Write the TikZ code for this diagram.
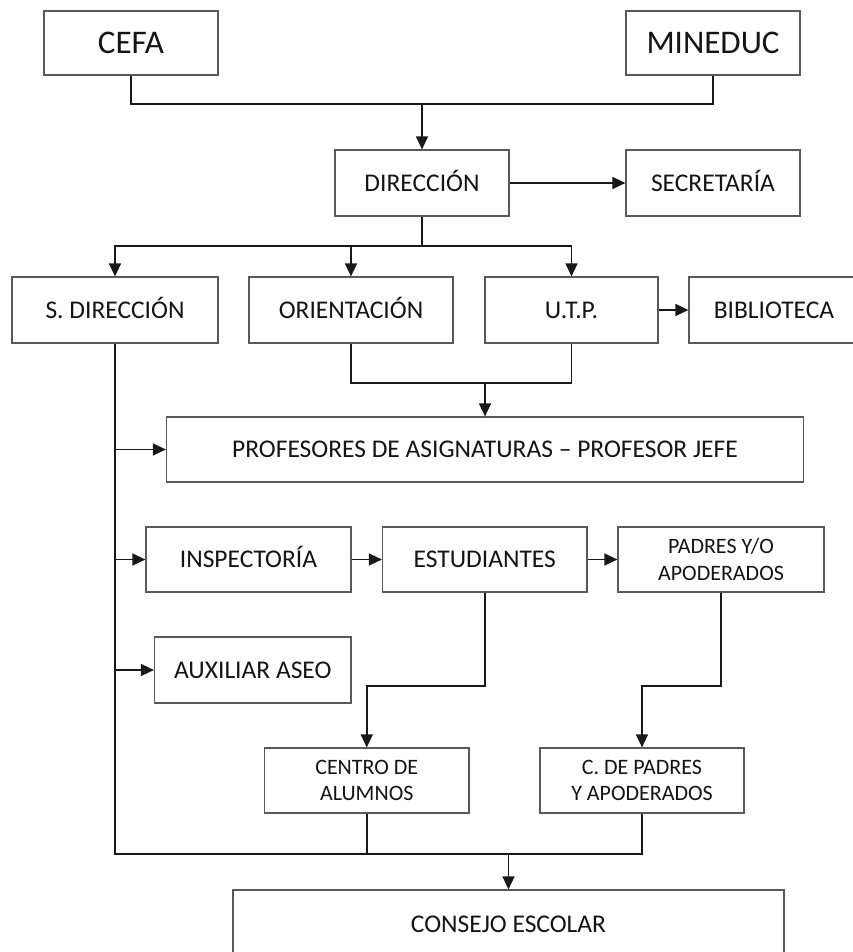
\documentclass[tikz,border=0pt]{standalone}
\usepackage{fontspec}
\setmainfont{Carlito}
\usetikzlibrary{arrows.meta}
\begin{document}
\begin{tikzpicture}[x=1pt,y=-1pt,
  box/.style={draw=black!65,line width=1.2pt,inner sep=0pt,text=black!92,align=center},
  big/.style={font=\fontsize{33}{38}\selectfont,text height=21pt,text depth=0pt},
  mid/.style={font=\fontsize{25.5}{30}\selectfont,text height=16.2pt,text depth=0pt},
  two/.style={font=\fontsize{22}{26.5}\selectfont},
  conn/.style={draw=black!90,line width=1.5pt},
  arr/.style={conn,-{Triangle[length=13pt,width=12pt]}}]
\useasboundingbox (0,0) rectangle (853,952);
\fill[white] (0,0) rectangle (853,952);
% boxes
\node[box,big,minimum width=174pt,minimum height=64pt] (cefa) at (131,43) {CEFA};
\node[box,big,minimum width=174pt,minimum height=64pt] (mineduc) at (713,43) {MINEDUC};
\node[box,mid,minimum width=174pt,minimum height=66pt] (dir) at (422,183) {DIRECCIÓN};
\node[box,mid,minimum width=174pt,minimum height=66pt] (sec) at (713,183) {SECRETARÍA};
\node[box,mid,minimum width=206pt,minimum height=66pt] (sdir) at (115,310) {S. DIRECCIÓN};
\node[box,mid,minimum width=204pt,minimum height=66pt] (ori) at (351,310) {ORIENTACIÓN};
\node[box,mid,minimum width=173pt,minimum height=66pt] (utp) at (571.5,310) {U.T.P.};
\node[box,mid,minimum width=170pt,minimum height=66pt] (bib) at (774,310) {BIBLIOTECA};
\node[box,mid,minimum width=637pt,minimum height=65pt] (prof) at (485,449.5) {PROFESORES DE ASIGNATURAS – PROFESOR JEFE};
\node[box,mid,minimum width=205pt,minimum height=65pt] (insp) at (248.5,559.5) {INSPECTORÍA};
\node[box,mid,minimum width=204.5pt,minimum height=65pt] (est) at (484.75,559.5) {ESTUDIANTES};
\node[box,two,minimum width=206pt,minimum height=65pt] (pad) at (721,559.5) {PADRES Y/O\\APODERADOS};
\node[box,mid,minimum width=196.5pt,minimum height=66pt] (aux) at (252.75,670) {AUXILIAR ASEO};
\node[box,two,minimum width=204.5pt,minimum height=65pt] (cen) at (366.75,780.5) {CENTRO DE\\ALUMNOS};
\node[box,two,minimum width=204pt,minimum height=65pt] (cpad) at (642,780.5) {C. DE PADRES\\Y APODERADOS};
\node[box,mid,minimum width=551pt,minimum height=68pt] (cons) at (508.5,924) {CONSEJO ESCOLAR};
% connectors
\coordinate (j1) at (422,104);
\draw[conn] (cefa.south) |- (j1) -| (mineduc.south);
\draw[arr] (j1) -- (dir.north);
\draw[arr] (dir.east) -- (sec.west);
\coordinate (j2) at (422,246);
\draw[conn] (dir.south) -- (j2);
\draw[arr] (j2) -| (sdir.north);
\draw[arr] (j2) -| (utp.north);
\draw[arr] (ori.north |- j2) -- (ori.north);
\draw[arr] (utp.east) -- (bib.west);
\coordinate (j3) at (485,383);
\draw[conn] (ori.south) |- (j3) -| (utp.south);
\draw[arr] (j3) -- (prof.north);
\coordinate (j5) at (508.5,854);
\draw[conn] (sdir.south) |- (j5) -| (cpad.south);
\draw[conn] (cen.south) -- (cen.south |- j5);
\draw[arr] (j5) -- (cons.north);
\draw[arr] (sdir.south |- prof.west) -- (prof.west);
\draw[arr] (sdir.south |- insp.west) -- (insp.west);
\draw[arr] (sdir.south |- aux.west) -- (aux.west);
\draw[arr] (insp.east) -- (est.west);
\draw[arr] (est.east) -- (pad.west);
\draw[arr] (est.south) -- (est.south |- 0,686) -| (cen.north);
\draw[arr] (pad.south) -- (pad.south |- 0,686) -| (cpad.north);
\end{tikzpicture}
\end{document}
